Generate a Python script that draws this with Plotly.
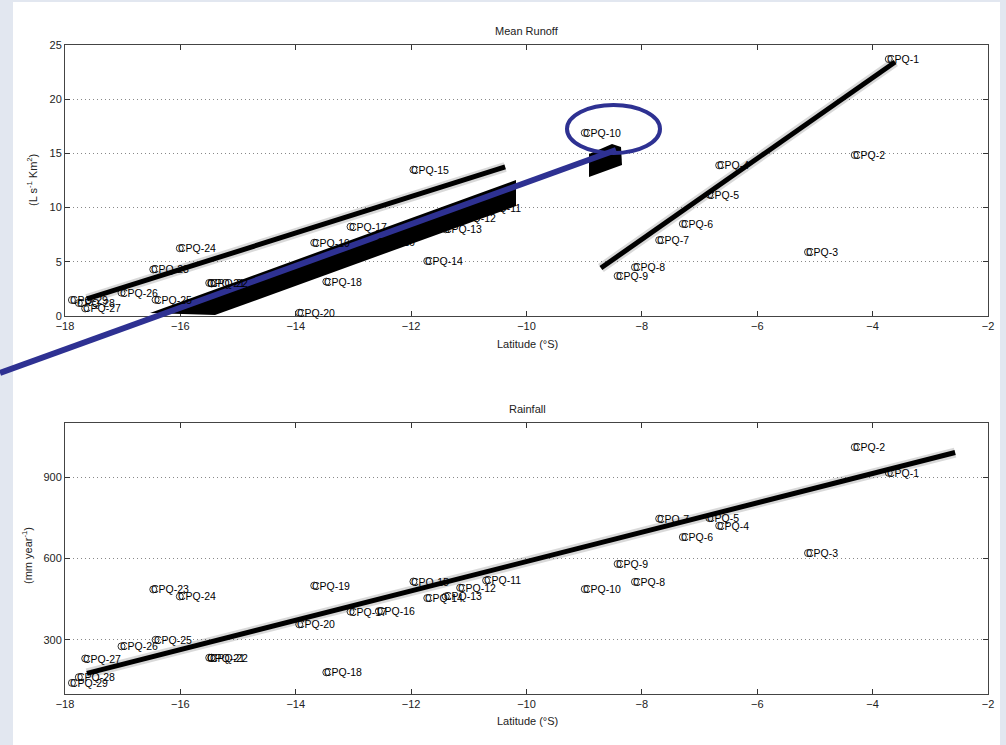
import plotly.graph_objects as go

# ---------------- data ----------------
stations = ["CPQ-1", "CPQ-2", "CPQ-3", "CPQ-4", "CPQ-5", "CPQ-6", "CPQ-7", "CPQ-8", "CPQ-9", "CPQ-10",
            "CPQ-11", "CPQ-12", "CPQ-13", "CPQ-14", "CPQ-15", "CPQ-16", "CPQ-17", "CPQ-18", "CPQ-19", "CPQ-20",
            "CPQ-21", "CPQ-22", "CPQ-23", "CPQ-24", "CPQ-25", "CPQ-26", "CPQ-27", "CPQ-28", "CPQ-29"]
latitude = [-3.72, -4.31, -5.12, -6.66, -6.83, -7.29, -7.70, -8.12, -8.42, -8.99,
            -10.70, -11.15, -11.40, -11.72, -11.96, -12.56, -13.05, -13.47, -13.68, -13.94,
            -15.50, -15.46, -16.47, -16.01, -16.43, -17.02, -17.65, -17.76, -17.88]
runoff = [23.7, 14.85, 5.9, 13.9, 11.2, 8.5, 7.0, 4.5, 3.7, 16.9,
          10.0, 9.0, 8.0, 5.07, 13.5, 6.85, 8.24, 3.17, 6.76, 0.3,
          3.05, 3.0, 4.3, 6.25, 1.5, 2.15, 0.7, 1.2, 1.48]
rainfall = [916, 1011, 620, 721, 749, 679, 747, 514, 580, 487,
            519, 492, 460, 454, 515, 406, 404, 180, 500, 357,
            234, 234, 486, 460, 300, 276, 231, 162, 141]

# fitted trend lines (end points)
runoff_fit_south_x = [-17.62, -10.37]
runoff_fit_south_y = [1.57, 13.75]
runoff_fit_north_x = [-8.71, -3.61]
runoff_fit_north_y = [4.43, 23.43]
rain_fit_x = [-17.62, -2.57]
rain_fit_y = [176, 991]

lat_ticks = [-18, -16, -14, -12, -10, -8, -6, -4, -2]
runoff_ticks = [0, 5, 10, 15, 20, 25]
rain_ticks = [300, 600, 900]

# ---------------- layout helpers ----------------
W, H = 1006, 745
FONT = "Liberation Sans, Arial, sans-serif"


def px(x):
    return x / W


def py(y):
    return 1 - y / H


fig = go.Figure()
annotations = []

for xa, ya, yvals, fx, fy in [("x", "y", runoff, [runoff_fit_south_x, runoff_fit_north_x], [runoff_fit_south_y, runoff_fit_north_y]),
                              ("x2", "y2", rainfall, [rain_fit_x], [rain_fit_y])]:
    for lx, ly in zip(fx, fy):
        fig.add_trace(go.Scatter(x=lx, y=ly, mode="lines", xaxis=xa, yaxis=ya,
                                 line=dict(color="rgba(0,0,0,0.15)", width=10),
                                 hoverinfo="skip", showlegend=False))
        fig.add_trace(go.Scatter(x=lx, y=ly, mode="lines", xaxis=xa, yaxis=ya,
                                 line=dict(color="black", width=5),
                                 hoverinfo="skip", showlegend=False))
    fig.add_trace(go.Scatter(x=latitude, y=yvals, mode="markers", xaxis=xa, yaxis=ya,
                             marker=dict(symbol="circle-open", size=7, color="black",
                                         line=dict(width=0.8, color="black")),
                             showlegend=False))
    for name, lx, ly in zip(stations, latitude, yvals):
        annotations.append(dict(text=name, x=lx, y=ly, xref=xa, yref=ya, showarrow=False,
                                xanchor="left", yanchor="middle", xshift=-4,
                                font=dict(family=FONT, size=10.5, color="black")))

axis_common = dict(showline=True, linecolor="#444", linewidth=1, mirror="ticks",
                   ticks="inside", ticklen=5, tickcolor="#333", zeroline=False, automargin=False,
                   tickfont=dict(family=FONT, size=11, color="#222"))
grid = dict(showgrid=True, gridcolor="#888", griddash="1px,3px", gridwidth=1)

top_dom = [py(316), py(45)]
bot_dom = [py(694), py(423)]
x_dom = [px(65), px(988)]

fig.update_layout(
    width=W, height=H,
    margin=dict(l=0, r=0, t=0, b=0, autoexpand=False),
    paper_bgcolor="#e2e7f0",
    plot_bgcolor="white",
    showlegend=False,
    xaxis=dict(domain=x_dom, anchor="y", range=[-18, -2], tickvals=lat_ticks,
               showgrid=False, **axis_common),
    yaxis=dict(domain=top_dom, anchor="x", range=[0, 25], tickvals=runoff_ticks,
               **grid, **axis_common),
    xaxis2=dict(domain=x_dom, anchor="y2", range=[-18, -2], tickvals=lat_ticks,
                showgrid=False, **axis_common),
    yaxis2=dict(domain=bot_dom, anchor="x2", range=[100, 1100], tickvals=rain_ticks,
                **grid, **axis_common),
)

shapes = [
    dict(type="rect", xref="paper", yref="paper", x0=px(13), x1=px(1000), y0=py(745), y1=py(2),
         fillcolor="white", line=dict(width=0), layer="below"),
    dict(type="path", xref="paper", yref="paper", layer="above",
         path=f"M {px(150)},{py(313)} L {px(516)},{py(180)} L {px(516)},{py(206)} L {px(215)},{py(315)} Z",
         fillcolor="black", line=dict(width=0)),
    dict(type="path", xref="paper", yref="paper", layer="above",
         path=f"M {px(589)},{py(154)} L {px(612)},{py(144)} L {px(621)},{py(147)} L {px(622)},{py(165)} L {px(589)},{py(177)} Z",
         fillcolor="black", line=dict(width=0)),
    dict(type="line", xref="paper", yref="paper", layer="above",
         x0=px(0), y0=py(373), x1=px(616), y1=py(150),
         line=dict(color="#2e3192", width=6)),
    dict(type="circle", xref="paper", yref="paper", layer="above",
         x0=px(567), x1=px(660), y0=py(153), y1=py(105),
         line=dict(color="#2e3192", width=4)),
]
fig.update_layout(shapes=shapes)

ann_font = dict(family=FONT, size=11, color="#222")
titles = [
    dict(text="Mean Runoff", x=px(527), y=py(31)),
    dict(text="Rainfall", x=px(527), y=py(409)),
    dict(text="Latitude (°S)", x=px(527), y=py(344)),
    dict(text="Latitude (°S)", x=px(527), y=py(721)),
    dict(text="(L s<sup>-1</sup> Km<sup>2</sup>)", x=px(32), y=py(180), textangle=-90),
    dict(text="(mm year<sup>-1</sup>)", x=px(27), y=py(556), textangle=-90),
]
for a in titles:
    a.update(xref="paper", yref="paper", showarrow=False, font=ann_font,
             xanchor="center", yanchor="middle")
fig.update_layout(annotations=annotations + titles)

fig.write_html("out.html", config={"displayModeBar": False},
               post_script="document.body.style.margin='0';document.body.style.overflow='hidden';")
